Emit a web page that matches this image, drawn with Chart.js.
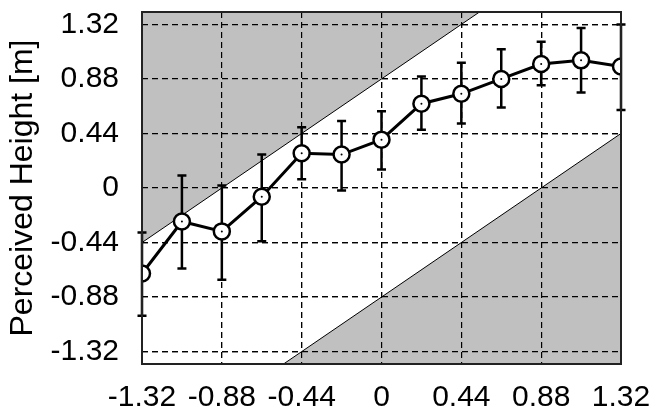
<!DOCTYPE html>
<html>
<head>
<meta charset="utf-8">
<script src="https://cdn.jsdelivr.net/npm/chart.js@4/dist/chart.umd.min.js"></script>
<style>
  html, body { margin: 0; padding: 0; background: #fff; }
  #wrap { width: 658px; height: 408px; }
</style>
</head>
<body>
<div id="wrap"><canvas id="myChart" width="658" height="408"></canvas></div>
<script>
// target height vs perceived height
const xs = [-1.32, -1.10, -0.88, -0.66, -0.44, -0.22, 0, 0.22, 0.44, 0.66, 0.88, 1.10, 1.32];
const means = [-0.69, -0.27, -0.35, -0.07, 0.28, 0.27, 0.39, 0.68, 0.76, 0.88, 1.00, 1.03, 0.98];
const upper = [-0.36, 0.10, 0.02, 0.27, 0.49, 0.54, 0.62, 0.90, 1.01, 1.12, 1.18, 1.29, 1.32];
const lower = [-1.03, -0.65, -0.74, -0.43, 0.07, -0.02, 0.15, 0.47, 0.52, 0.65, 0.83, 0.77, 0.63];

// shaded band edges
const upperEdge = [{x: -1.32, y: -0.44}, {x: 1.32, y: 2.20}];
const lowerEdge = [{x: -1.32, y: -2.20}, {x: 1.32, y: 0.44}];

const tickVals = [-1.32, -0.88, -0.44, 0, 0.44, 0.88, 1.32];

const points = xs.map((x, i) => ({x: x, y: means[i]}));

const fontFam = "'Liberation Sans', Arial, sans-serif";
const MAIN = 1;

// grid on top of the grey, error bars under the circles
const errorBars = {
    id: 'errorBars',
    beforeDatasetDraw(chart, args) {
        if (args.index !== MAIN) return;
        const ctx = chart.ctx;
        chart.scales.x.drawGrid(chart.chartArea);
        chart.scales.y.drawGrid(chart.chartArea);
        const x = chart.scales.x, y = chart.scales.y;
        ctx.save();
        ctx.strokeStyle = '#000';
        ctx.lineWidth = 2.5;
        xs.forEach((v, i) => {
            const px = x.getPixelForValue(v);
            const top = y.getPixelForValue(upper[i]);
            const bot = y.getPixelForValue(lower[i]);
            ctx.beginPath();
            ctx.moveTo(px, top); ctx.lineTo(px, bot);
            ctx.moveTo(px - 4.5, top); ctx.lineTo(px + 4.5, top);
            ctx.moveTo(px - 4.5, bot); ctx.lineTo(px + 4.5, bot);
            ctx.stroke();
        });
        ctx.restore();
    },
    afterDraw(chart) {
        const a = chart.chartArea;
        const ctx = chart.ctx;
        ctx.save();
        ctx.strokeStyle = '#222';
        ctx.lineWidth = 2;
        ctx.strokeRect(a.left, a.top, a.right - a.left, a.bottom - a.top);
        ctx.restore();
    }
};

const config = {
    type: 'scatter',
    data: {
        datasets: [{
            // little dot inside each marker
            data: points,
            pointRadius: 1,
            pointBorderWidth: 0,
            pointBackgroundColor: '#000'
        }, {
            data: points,
            showLine: true,
            borderColor: '#000',
            borderWidth: 3,
            pointRadius: 8,
            pointBorderWidth: 2.5,
            pointBackgroundColor: '#fff',
            pointBorderColor: '#000'
        }, {
            data: upperEdge,
            showLine: true,
            borderColor: '#000',
            borderWidth: 1,
            pointRadius: 0,
            fill: 'end',
            backgroundColor: '#c0c0c0'
        }, {
            data: lowerEdge,
            showLine: true,
            borderColor: '#000',
            borderWidth: 1,
            pointRadius: 0,
            fill: 'start',
            backgroundColor: '#c0c0c0'
        }]
    },
    options: {
        responsive: false,
        animation: false,
        events: [],
        layout: { padding: { top: 12, right: 37, left: 0, bottom: 0 } },
        plugins: {
            legend: { display: false },
            tooltip: { enabled: false }
        },
        scales: {
            x: {
                min: -1.32,
                max: 1.32,
                afterBuildTicks: s => { s.ticks = tickVals.map(v => ({value: v})); },
                afterFit: s => { s.height = 44; s.paddingLeft = 0; s.paddingRight = 0; },
                ticks: {
                    color: '#000',
                    padding: 16,
                    maxRotation: 0,
                    font: { family: fontFam, size: 30 },
                    callback: v => String(v)
                },
                grid: { color: '#000', lineWidth: 1.2, drawTicks: false },
                border: { display: false, dash: [6, 4] }
            },
            y: {
                min: -1.42,
                max: 1.42,
                afterBuildTicks: s => { s.ticks = tickVals.map(v => ({value: v})); },
                afterFit: s => { s.width = 142; s.paddingTop = 0; s.paddingBottom = 0; },
                ticks: {
                    color: '#000',
                    padding: 23,
                    font: { family: fontFam, size: 30 },
                    callback: v => String(v)
                },
                grid: { color: '#000', lineWidth: 1.2, drawTicks: false },
                border: { display: false, dash: [6, 4] },
                title: {
                    display: true,
                    text: 'Perceived Height [m]',
                    color: '#000',
                    padding: { top: 4, bottom: 0 },
                    font: { family: fontFam, size: 32 }
                }
            }
        }
    },
    plugins: [errorBars]
};

var ctx = document.getElementById("myChart").getContext('2d');
var myChart = new Chart(ctx, config);
</script>
</body>
</html>
